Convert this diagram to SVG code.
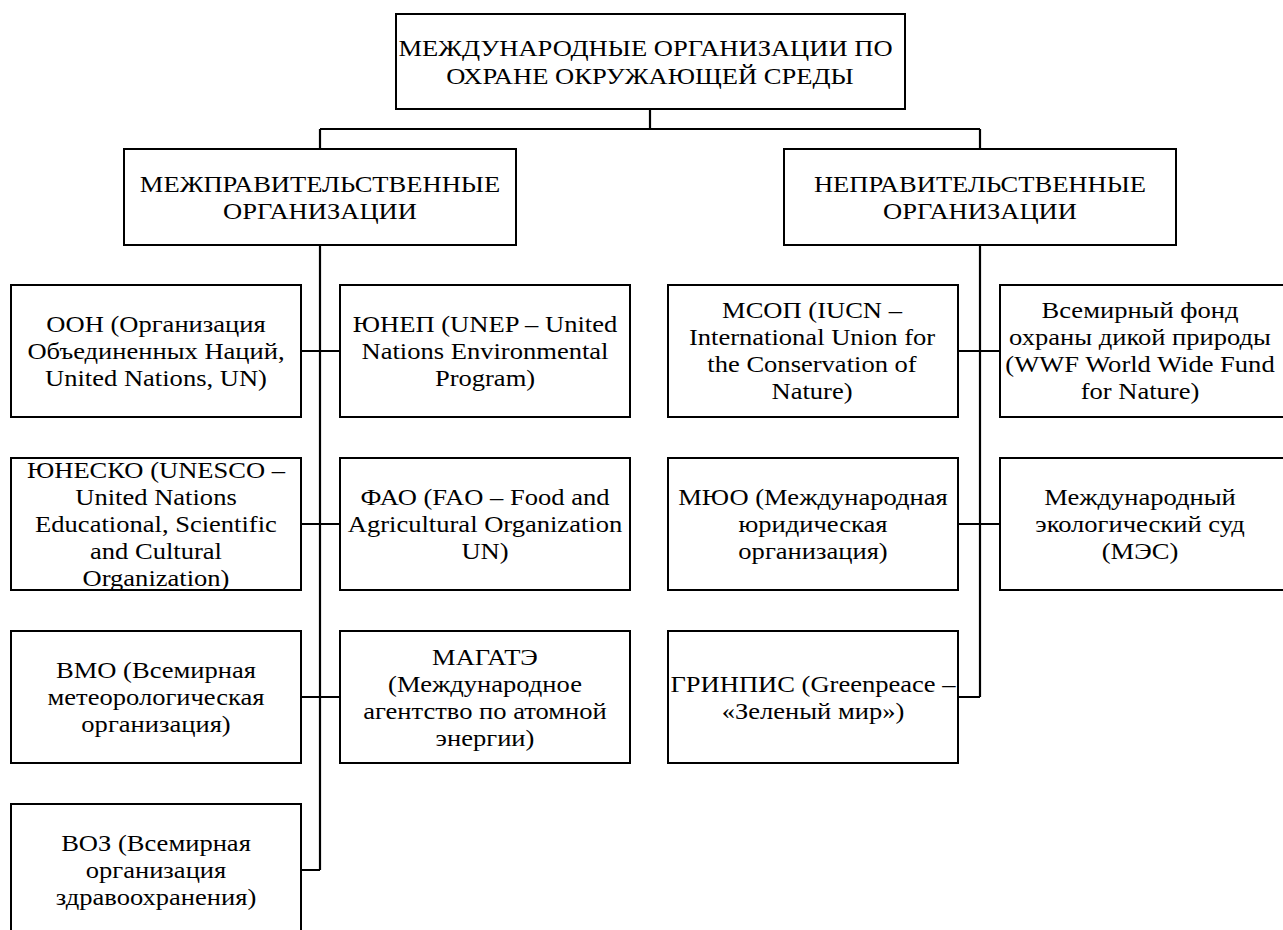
<svg xmlns="http://www.w3.org/2000/svg" width="1283" height="930" viewBox="0 0 1283 930">
<style>
.box{fill:#fff;stroke:#000;stroke-width:2}
.con{fill:none;stroke:#000;stroke-width:2.2}
.t{font-size:23.5px;text-anchor:middle;fill:#000}
</style>
<rect width="1283" height="930" fill="#fff"/>
<g id="connectors" class="con">
<path d="M650 109V129M320 129H980M320 129V149M980 129V149"/>
<path d="M320 245V870M301 351H340M301 524H340M301 697H340M301 870H320"/>
<path d="M980 245V697M958 351H1000M958 524H1000M958 697H980"/>
</g>
<g id="root">
<rect class="box" x="396" y="14" width="509" height="95"/>
<text class="t" style="font-family:'Times New Roman','Liberation Serif',serif" transform="translate(650 0) scale(1.13 1)"><tspan x="-4" y="56.5">МЕЖДУНАРОДНЫЕ ОРГАНИЗАЦИИ ПО</tspan><tspan x="0" y="84.5">ОХРАНЕ ОКРУЖАЮЩЕЙ СРЕДЫ</tspan></text>
</g>
<g id="intergov">
<rect class="box" x="124" y="149" width="392" height="96"/>
<text class="t" style="font-family:'Times New Roman','Liberation Serif',serif" transform="translate(320 0) scale(1.13 1)"><tspan x="0" y="192.5">МЕЖПРАВИТЕЛЬСТВЕННЫЕ</tspan><tspan x="0" y="219.5">ОРГАНИЗАЦИИ</tspan></text>
</g>
<g id="nongov">
<rect class="box" x="784" y="149" width="392" height="96"/>
<text class="t" style="font-family:'Times New Roman','Liberation Serif',serif" transform="translate(980 0) scale(1.13 1)"><tspan x="0" y="192.5">НЕПРАВИТЕЛЬСТВЕННЫЕ</tspan><tspan x="0" y="219.5">ОРГАНИЗАЦИИ</tspan></text>
</g>
<g id="oon">
<rect class="box" x="11" y="285" width="290" height="132"/>
<text class="t" style="font-family:'Times New Roman','Liberation Serif',serif" transform="translate(156 0) scale(1.13 1)"><tspan x="0" y="332.5">ООН (Организация</tspan><tspan x="0" y="359.5">Объединенных Наций,</tspan><tspan x="0" y="386.5">United Nations, UN)</tspan></text>
</g>
<g id="unep">
<rect class="box" x="340" y="285" width="290" height="132"/>
<text class="t" style="font-family:'Times New Roman','Liberation Serif',serif" transform="translate(485 0) scale(1.13 1)"><tspan x="0" y="332.5">ЮНЕП (UNEP – United</tspan><tspan x="0" y="359.5">Nations Environmental</tspan><tspan x="0" y="386.5">Program)</tspan></text>
</g>
<g id="unesco">
<rect class="box" x="11" y="458" width="290" height="132"/>
<text class="t" style="font-family:'Times New Roman','Liberation Serif',serif" transform="translate(156 0) scale(1.13 1)"><tspan x="0" y="478">ЮНЕСКО (UNESCO –</tspan><tspan x="0" y="505">United Nations</tspan><tspan x="0" y="532">Educational, Scientific</tspan><tspan x="0" y="559">and Cultural</tspan><tspan x="0" y="586">Organization)</tspan></text>
</g>
<g id="fao">
<rect class="box" x="340" y="458" width="290" height="132"/>
<text class="t" style="font-family:'Times New Roman','Liberation Serif',serif" transform="translate(485 0) scale(1.13 1)"><tspan x="0" y="505.5">ФАО (FAO – Food and</tspan><tspan x="0" y="532.5">Agricultural Organization</tspan><tspan x="0" y="559.5">UN)</tspan></text>
</g>
<g id="vmo">
<rect class="box" x="11" y="631" width="290" height="132"/>
<text class="t" style="font-family:'Times New Roman','Liberation Serif',serif" transform="translate(156 0) scale(1.13 1)"><tspan x="0" y="678.5">ВМО (Всемирная</tspan><tspan x="0" y="705.5">метеорологическая</tspan><tspan x="0" y="732.5">организация)</tspan></text>
</g>
<g id="magate">
<rect class="box" x="340" y="631" width="290" height="132"/>
<text class="t" style="font-family:'Times New Roman','Liberation Serif',serif" transform="translate(485 0) scale(1.13 1)"><tspan x="0" y="665">МАГАТЭ</tspan><tspan x="0" y="692">(Международное</tspan><tspan x="0" y="719">агентство по атомной</tspan><tspan x="0" y="746">энергии)</tspan></text>
</g>
<g id="voz">
<rect class="box" x="11" y="804" width="290" height="140"/>
<text class="t" style="font-family:'Times New Roman','Liberation Serif',serif" transform="translate(156 0) scale(1.13 1)"><tspan x="0" y="851">ВОЗ (Всемирная</tspan><tspan x="0" y="878">организация</tspan><tspan x="0" y="905">здравоохранения)</tspan></text>
</g>
<g id="msop">
<rect class="box" x="668" y="285" width="290" height="132"/>
<text class="t" style="font-family:'Times New Roman','Liberation Serif',serif" transform="translate(812 0) scale(1.13 1)"><tspan x="0" y="318.5">МСОП (IUCN –</tspan><tspan x="0" y="345.5">International Union for</tspan><tspan x="0" y="372.5">the Conservation of</tspan><tspan x="0" y="399.5">Nature)</tspan></text>
</g>
<g id="wwf">
<rect class="box" x="1000" y="285" width="295" height="132"/>
<text class="t" style="font-family:'Times New Roman','Liberation Serif',serif" transform="translate(1140 0) scale(1.13 1)"><tspan x="0" y="318.5">Всемирный фонд</tspan><tspan x="0" y="345.5">охраны дикой природы</tspan><tspan x="0" y="372.5">(WWF World Wide Fund</tspan><tspan x="0" y="399.5">for Nature)</tspan></text>
</g>
<g id="myuo">
<rect class="box" x="668" y="458" width="290" height="132"/>
<text class="t" style="font-family:'Times New Roman','Liberation Serif',serif" transform="translate(813 0) scale(1.13 1)"><tspan x="0" y="505.5">МЮО (Международная</tspan><tspan x="0" y="532.5">юридическая</tspan><tspan x="0" y="559.5">организация)</tspan></text>
</g>
<g id="mes">
<rect class="box" x="1000" y="458" width="295" height="132"/>
<text class="t" style="font-family:'Times New Roman','Liberation Serif',serif" transform="translate(1140 0) scale(1.13 1)"><tspan x="0" y="505.5">Международный</tspan><tspan x="0" y="532.5">экологический  суд</tspan><tspan x="0" y="559.5">(МЭС)</tspan></text>
</g>
<g id="greenpeace">
<rect class="box" x="668" y="631" width="290" height="132"/>
<text class="t" style="font-family:'Times New Roman','Liberation Serif',serif" transform="translate(813 0) scale(1.13 1)"><tspan x="0" y="692">ГРИНПИС (Greenpeace –</tspan><tspan x="0" y="719">«Зеленый мир»)</tspan></text>
</g>
</svg>
